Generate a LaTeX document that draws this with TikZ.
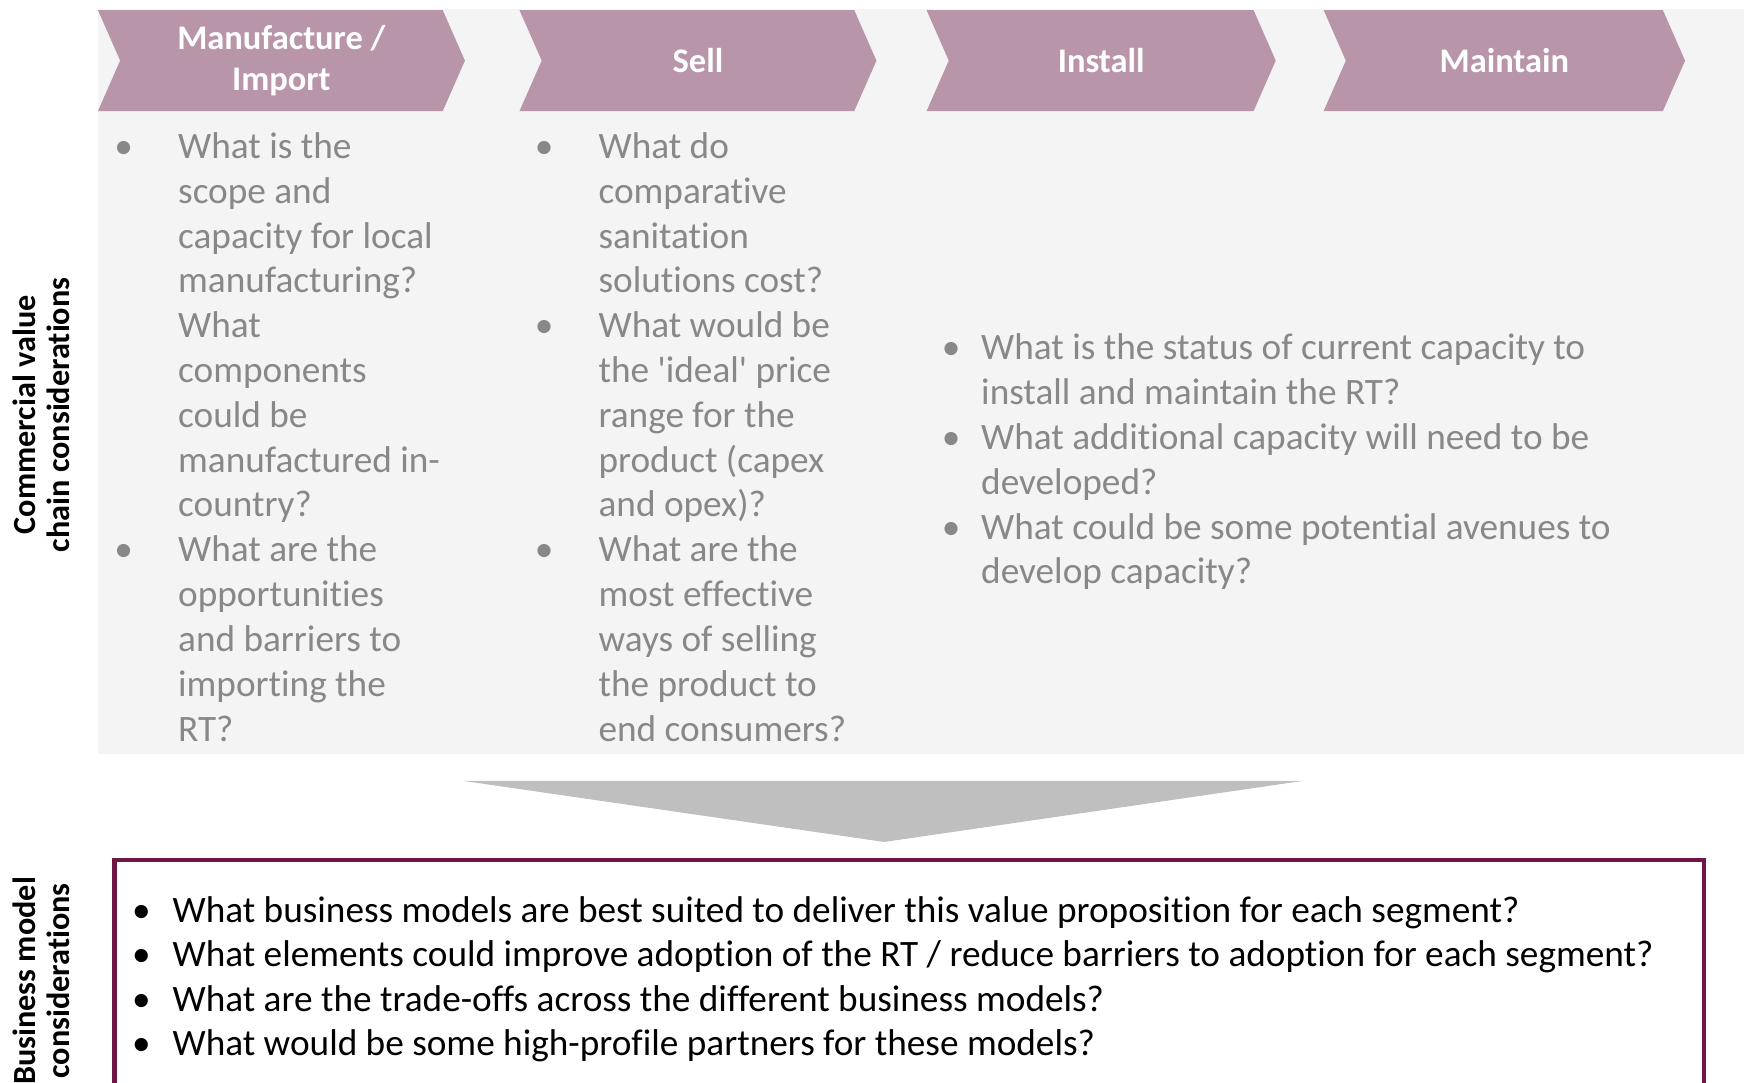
\documentclass[tikz,border=0pt]{standalone}
\usepackage{fontspec}
\setmainfont{Carlito}[Ligatures={TeX,NoCommon}]
\usetikzlibrary{positioning,calc}

\definecolor{panelgray}{HTML}{F4F4F4}
\definecolor{chevmauve}{HTML}{B995A9}
\definecolor{qgray}{HTML}{888888}
\definecolor{arrowgray}{HTML}{BFBFBF}
\definecolor{boxmaroon}{HTML}{6C1745}

\newcommand{\qdot}[1]{\hspace*{#1}\makebox[0pt]{\textbullet}}
\newcommand{\sq}{\textquotesingle}

\tikzset{
	chev/.style={fill=chevmauve},
	chevtext/.style={text=white,align=center,
		font=\fontsize{31}{37}\selectfont\bfseries},
	qtext/.style={anchor=north west,inner sep=0pt,text=qgray,
		font=\fontsize{33.5}{40.3}\selectfont},
	btext/.style={anchor=north west,inner sep=0pt,text=black,
		font=\fontsize{33.5}{40}\selectfont},
	sidelabel/.style={rotate=90,align=center,inner sep=0pt,
		font=\fontsize{29}{30}\selectfont\bfseries}
}

\begin{document}
\begin{tikzpicture}[x=1pt,y=-1pt]
	\useasboundingbox (0,0) rectangle (1568,973);

	% background of the value chain
	\fill[panelgray] (88,8) rectangle (1568,678);

	% value chain steps
	\foreach \l/\r/\nm/\txt in {88/418/mi/{Manufacture /\\Import},
		467/788/sl/Sell,833/1147/is/Install,1190/1515/mt/Maintain}
	{
		\fill[chev] (\l,9) -- ({\r-20},9) -- (\r,54.5)
			-- ({\r-20},100) -- (\l,100) -- ({\l+20},54.5) -- cycle;
		\node[chevtext] (h\nm) at ({(\l+\r)/2},54.5) {\txt};
	}

	% questions per step
	\node[qtext] (qmi) at (100,114) {%
		\begin{tabular}{@{}p{60pt}@{}l@{}}
			\qdot{11pt} & What is the\\
			& scope and\\
			& capacity for local\\
			& manufacturing?\\
			& What\\
			& components\\
			& could be\\
			& manufactured in-\\
			& country?\\
			\qdot{11pt} & What are the\\
			& opportunities\\
			& and barriers to\\
			& importing the\\
			& RT?
		\end{tabular}};

	\node[qtext] (qsl) at (478,114) {%
		\begin{tabular}{@{}p{60pt}@{}l@{}}
			\qdot{11pt} & What do\\
			& comparative\\
			& sanitation\\
			& solutions cost?\\
			\qdot{11pt} & What would be\\
			& the \sq ideal\sq{} price\\
			& range for the\\
			& product (capex\\
			& and opex)?\\
			\qdot{11pt} & What are the\\
			& most effective\\
			& ways of selling\\
			& the product to\\
			& end consumers?
		\end{tabular}};

	\node[qtext] (qis) at (845,295) {%
		\begin{tabular}{@{}p{37pt}@{}l@{}}
			\qdot{10pt} & What is the status of current capacity to\\
			& install and maintain the RT?\\
			\qdot{10pt} & What additional capacity will need to be\\
			& developed?\\
			\qdot{10pt} & What could be some potential avenues to\\
			& develop capacity?
		\end{tabular}};

	% arrow down to business models
	\fill[arrowgray] (416,702) -- (1172,702) -- (795,757) -- cycle;

	% business model box
	\draw[boxmaroon,line width=4pt] (103,773) rectangle (1532,1000);
	\node[btext] (qbm) at (117,801) {%
		\begin{tabular}{@{}p{38pt}@{}l@{}}
			\qdot{10pt} & What business models are best suited to deliver this value proposition for each segment?\\
			\qdot{10pt} & What elements could improve adoption of the RT / reduce barriers to adoption for each segment?\\
			\qdot{10pt} & What are the trade-offs across the different business models?\\
			\qdot{10pt} & What would be some high-profile partners for these models?
		\end{tabular}};

	% row labels
	\node[sidelabel] (lcv) at (37,373)
	{Commercial value\\chain considerations};
	\node[sidelabel] (lbm) at (37,882)
	{Business model\\considerations};
\end{tikzpicture}
\end{document}
